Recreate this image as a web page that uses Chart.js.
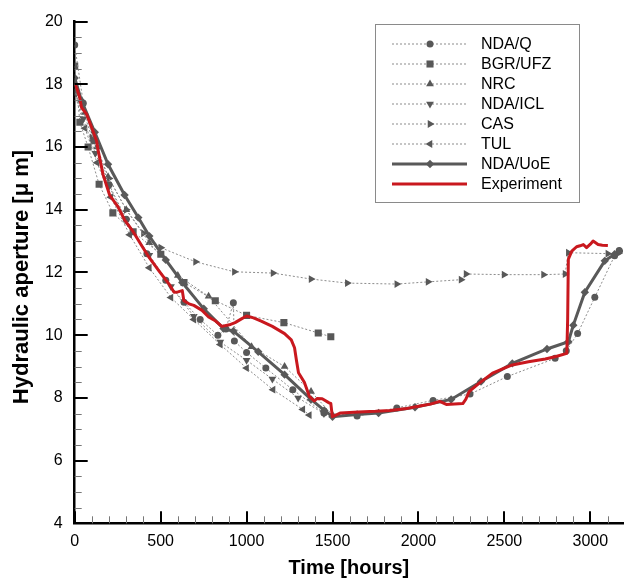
<!DOCTYPE html>
<html><head><meta charset="utf-8">
<script src="https://cdn.jsdelivr.net/npm/chart.js@4.4.1/dist/chart.umd.min.js"></script>
<style>html,body{margin:0;padding:0;background:#fff;}#wrap{width:628px;height:583px;}</style>
</head><body><div id="wrap"><canvas id="c" width="628" height="583"></canvas></div>
<script>
// ---------- data ----------
const seriesNames = ['NDA/Q','BGR/UFZ','NRC','NDA/ICL','CAS','TUL','NDA/UoE','Experiment'];
const xTickLabels = [0,500,1000,1500,2000,2500,3000];
const yTickLabels = [4,6,8,10,12,14,16,18,20];
const xTitle = 'Time [hours]';
const yTitle = 'Hydraulic aperture [\u03bc m]';
const xMinorStep = 100, xMax = 3190;
const yMin = 4, yMax = 20, yMinorStep = 0.5;

const ndaqT = [0,50,110,200,300,420,530,636,730,833,880,923,929,1000,1112,1269,1450,1643,1874,2085,2300,2517,2795,2860,2926,3026,3141,3168];
const ndaqV = [19.25,17.4,16.2,14.8,13.7,12.6,11.75,11.05,10.5,10.0,10.2,11.03,9.81,9.45,8.95,8.26,7.52,7.42,7.68,7.92,8.12,8.68,9.26,9.5,10.05,11.21,12.53,12.7];

const bgrT = [0,30,78,142,222,340,501,636,818,1000,1217,1417,1490];
const bgrV = [18.58,16.79,16.0,14.81,13.9,13.3,12.58,11.68,11.1,10.63,10.4,10.07,9.95];

const nrcT = [0,60,130,194,300,434,600,779,1029,1221,1375,1500];
const nrcV = [18.0,17.1,16.0,15.05,14.0,12.95,11.9,11.24,9.63,9.0,8.2,7.45];

const iclT = [0,50,120,200,300,434,560,693,847,1000,1150,1300,1450];
const iclV = [17.84,16.9,15.8,14.75,13.65,12.55,11.55,10.6,9.78,9.2,8.6,8.0,7.5];

const casT = [0,100,200,300,400,501,703,929,1154,1375,1586,1874,2056,2248,2277,2498,2728,2853,2872,3102,3165];
const casV = [18.0,16.3,15.0,14.0,13.25,12.79,12.34,12.02,11.98,11.79,11.66,11.63,11.7,11.77,11.95,11.93,11.93,11.95,12.63,12.6,12.62];

const tulT = [0,60,130,210,320,434,560,693,847,1000,1154,1327,1365];
const tulV = [17.7,16.6,15.5,14.4,13.2,12.15,11.2,10.5,9.7,8.95,8.26,7.63,7.45];

const uoeT = [0,40,117,194,290,370,434,530,626,751,866,923,1068,1221,1375,1452,1500,1643,1768,1980,2190,2364,2546,2748,2872,2901,2968,3084,3141,3170];
const uoeV = [18.2,17.47,16.47,15.45,14.47,13.75,13.16,12.4,11.68,10.84,10.21,10.13,9.47,8.74,7.95,7.6,7.4,7.47,7.52,7.70,7.95,8.52,9.1,9.56,9.79,10.32,11.37,12.37,12.58,12.68];

const expT = [0,11,30,40,69,98,127,136,165,203,251,290,340,390,434,490,549,578,600,626,635,665,693,741,779,820,856,900,933,970,1000,1040,1085,1150,1221,1260,1279,1290,1302,1336,1365,1394,1410,1440,1480,1490,1499,1520,1547,1650,1750,1835,1920,2008,2070,2123,2162,2258,2275,2296,2354,2431,2500,2546,2640,2738,2800,2863,2868,2872,2892,2920,2940,2959,2978,3000,3016,3045,3070,3102];
const expV = [18.0,17.9,17.55,17.26,17.05,16.63,16.2,15.9,15.12,14.47,14.1,13.68,13.3,12.85,12.47,12.05,11.63,11.37,11.38,11.42,11.1,11.0,10.95,10.79,10.58,10.45,10.28,10.33,10.4,10.52,10.61,10.55,10.45,10.28,10.05,9.85,9.6,9.2,8.8,8.5,8.05,7.9,7.98,7.97,7.84,7.82,7.4,7.45,7.52,7.55,7.57,7.6,7.65,7.74,7.8,7.89,7.79,7.82,7.95,8.21,8.47,8.79,8.95,9.05,9.15,9.24,9.32,9.42,10.5,12.42,12.68,12.82,12.85,12.89,12.79,12.9,13.0,12.89,12.87,12.86];

// ---------- build ----------
const zip = (t, v) => t.map((x, i) => ({x: x, y: v[i]}));
const FONT = "'Liberation Sans', Arial, Helvetica, sans-serif";
const dotLine = '#8c8c8c', markCol = '#585858';
function dotted(name, t, v, style, rot, r, ord) {
  return {label: name, data: zip(t, v), borderColor: dotLine, borderWidth: 1, borderDash: [2, 2],
    pointStyle: style, pointRotation: rot, pointRadius: r, pointBackgroundColor: markCol,
    pointBorderColor: markCol, pointBorderWidth: 0, tension: 0, order: ord};
}
const datasets = [
  dotted(seriesNames[0], ndaqT, ndaqV, 'circle', 0, 3.5, 3),
  dotted(seriesNames[1], bgrT, bgrV, 'rect', 0, 5, 4),
  dotted(seriesNames[2], nrcT, nrcV, 'triangle', 0, 4.5, 5),
  dotted(seriesNames[3], iclT, iclV, 'triangle', 180, 4.5, 6),
  dotted(seriesNames[4], casT, casV, 'triangle', 90, 4.5, 7),
  dotted(seriesNames[5], tulT, tulV, 'triangle', 270, 4.5, 8),
  {label: seriesNames[6], data: zip(uoeT, uoeV), borderColor: '#595959', borderWidth: 3,
    pointStyle: 'rectRot', pointRadius: 4.2, pointBackgroundColor: '#595959', pointBorderColor: '#595959',
    pointBorderWidth: 0, tension: 0, order: 2},
  {label: seriesNames[7], data: zip(expT, expV), borderColor: '#c9181e', borderWidth: 3,
    pointRadius: 0, tension: 0, order: 1, borderJoinStyle: 'round'}
];

function marker(ctx, style, rot, x, y, r) {
  if (Chart.helpers && Chart.helpers.drawPoint) {
    Chart.helpers.drawPoint(ctx, {pointStyle: style, rotation: rot, radius: r, borderWidth: 0}, x, y);
  }
}

const decor = {
  id: 'decor',
  afterDraw(chart) {
    const ctx = chart.ctx, xs = chart.scales.x, ys = chart.scales.y, a = chart.chartArea;
    ctx.save();
    ctx.setLineDash([]);
    for (let v = 0; v <= xMax; v += xMinorStep) {
      const major = xTickLabels.indexOf(v) >= 0;
      const px = Math.round(xs.getPixelForValue(v)) + (major ? 0 : 0.5);
      ctx.strokeStyle = major ? '#000' : '#777';
      ctx.lineWidth = major ? 2 : 1;
      ctx.beginPath(); ctx.moveTo(px, a.bottom); ctx.lineTo(px, a.bottom - (major ? 12 : 7)); ctx.stroke();
    }
    for (let k = 0; yMin + k * yMinorStep <= yMax + 1e-9; k++) {
      const v = yMin + k * yMinorStep;
      const major = yTickLabels.indexOf(v) >= 0;
      const py = Math.round(ys.getPixelForValue(v)) + (major ? 0 : 0.5);
      ctx.strokeStyle = major ? '#000' : '#777';
      ctx.lineWidth = major ? 2 : 1;
      ctx.beginPath(); ctx.moveTo(a.left, py); ctx.lineTo(a.left + (major ? 13 : 7), py); ctx.stroke();
    }
    // y axis title
    ctx.save();
    ctx.translate(28, 277);
    ctx.rotate(-Math.PI / 2);
    ctx.font = "bold 22px " + FONT;
    ctx.fillStyle = '#000';
    ctx.textAlign = 'center'; ctx.textBaseline = 'alphabetic';
    ctx.fillText(yTitle, 0, 0);
    ctx.restore();
    // legend
    const bx = 375.5, by = 24.5, bw = 204, bh = 178;
    ctx.fillStyle = '#fff';
    ctx.fillRect(bx, by, bw, bh);
    ctx.strokeStyle = '#8a8a8a'; ctx.lineWidth = 1;
    ctx.strokeRect(bx, by, bw, bh);
    ctx.font = "16px " + FONT;
    ctx.textBaseline = 'middle'; ctx.textAlign = 'left';
    chart.data.datasets.forEach((ds, i) => {
      const y = 44 + i * 20;
      ctx.save();
      ctx.strokeStyle = ds.borderColor; ctx.lineWidth = ds.borderWidth;
      ctx.setLineDash(ds.borderDash || []);
      ctx.beginPath(); ctx.moveTo(392, y); ctx.lineTo(467, y); ctx.stroke();
      ctx.setLineDash([]);
      if (ds.pointRadius > 0) {
        ctx.fillStyle = ds.pointBackgroundColor; ctx.strokeStyle = ds.pointBorderColor;
        marker(ctx, ds.pointStyle, ds.pointRotation || 0, 430, y, ds.pointRadius);
      }
      ctx.restore();
      ctx.fillStyle = '#000';
      ctx.fillText(ds.label, 481, y + 0.5);
    });
    ctx.restore();
  }
};

new Chart(document.getElementById('c'), {
  type: 'line',
  data: {datasets: datasets},
  plugins: [decor],
  options: {
    responsive: false, animation: false,
    layout: {padding: {top: 16.7, right: 0, bottom: 0, left: 0}},
    plugins: {legend: {display: false}, tooltip: {enabled: false}},
    scales: {
      x: {type: 'linear', min: 0, max: xMax,
        grid: {display: false, drawTicks: false},
        border: {display: true, color: '#000', width: 2.5},
        afterBuildTicks(s) { s.ticks = xTickLabels.map(v => ({value: v})); },
        ticks: {padding: 9, color: '#000', maxRotation: 0, autoSkip: false,
          callback: v => String(v), font: {family: FONT, size: 16}},
        title: {display: true, text: xTitle, color: '#000', padding: {top: 0, bottom: 3},
          font: {family: FONT, size: 20, weight: 'bold'}},
        afterFit(s) { s.height = 59.7; }
      },
      y: {type: 'linear', min: yMin, max: yMax,
        grid: {display: false, drawTicks: false},
        border: {display: true, color: '#000', width: 2.5},
        afterBuildTicks(s) { s.ticks = yTickLabels.map(v => ({value: v})); },
        ticks: {padding: 12, color: '#000', autoSkip: false, callback: v => String(v),
          font: {family: FONT, size: 16}},
        title: {display: false},
        afterFit(s) { s.width = 74.7; }
      }
    }
  }
});
</script>
</body></html>
